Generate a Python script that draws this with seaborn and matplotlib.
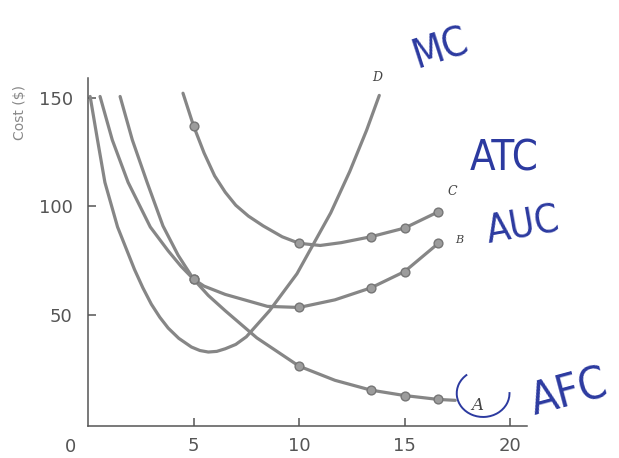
import numpy as np
import pandas as pd
import matplotlib
matplotlib.use("Agg")
import matplotlib.pyplot as plt
from matplotlib.patches import Arc
import seaborn as sns

# Output levels (Q) and per-unit costs ($) for the four cost curves
mc_q = [0.1, 0.45, 0.8, 1.4, 2.2, 2.6, 3.0, 3.4, 3.8, 4.3, 4.9, 5.3, 5.7, 6.1, 6.5, 7.0,
        7.5, 8.6, 9.9, 10.7, 11.5, 12.4, 13.2, 13.8]
mc_cost = [150.5, 130.5, 111, 90.5, 71, 62.5, 55, 49, 44, 39.3, 35.3, 33.7, 33, 33.3, 34.5, 36.5,
           40, 52, 69, 83, 97, 116, 135, 151]

avc_q = [0.57, 1.15, 1.9, 2.95, 3.8, 4.4, 5.0, 5.5, 6.5, 8.5, 10.0, 11.7, 13.4, 15.0, 16.6]
avc_cost = [150.5, 130.5, 111, 90.5, 79.5, 72.5, 66.5, 63.3, 59.5, 54, 53.5, 57, 62.5, 70, 83]

afc_q = [1.52, 2.1, 2.8, 3.55, 4.27, 5.0, 5.7, 6.5, 8.0, 10.0, 11.7, 13.4, 15.0, 16.6, 17.4]
afc_cost = [150.5, 130.5, 111, 91, 77.5, 66.5, 59, 52, 39.5, 26.5, 20, 15.5, 13, 11.2, 10.8]

atc_q = [4.5, 5.0, 5.5, 6.0, 6.5, 7.0, 7.6, 8.3, 9.2, 10.0, 11.0, 12.0, 13.4, 15.0, 16.6]
atc_cost = [152, 137, 124.5, 114, 106.5, 100.5, 95.5, 91, 86, 83, 82, 83.3, 86, 90, 97.5]

# Output levels marked with a dot on the A, B and C curves
marked_q = [5.0, 10.0, 13.4, 15.0, 16.6]

curve_letters = ["A", "B", "C", "D"]
curve_names = ["AFC", "AUC", "ATC", "MC"]

x_ticks = [5, 10, 15, 20]
y_ticks = [50, 100, 150]

rows = []
for letter, qs, cs in [("A", afc_q, afc_cost), ("B", avc_q, avc_cost),
                       ("C", atc_q, atc_cost), ("D", mc_q, mc_cost)]:
    for q, c in zip(qs, cs):
        rows.append({"curve": letter, "q": q, "cost": c})
df = pd.DataFrame(rows)

sns.set_style("ticks")
plt.rcParams["font.family"] = ["DejaVu Sans"]

fig = plt.figure(figsize=(6.19, 4.58), dpi=100)
ax = fig.add_axes([0.1422, 0.0699, 0.7092, 0.7598])

line_grey = "#868686"
sns.lineplot(data=df, x="q", y="cost", units="curve", estimator=None, sort=False,
             color=line_grey, lw=2.3, solid_joinstyle="round", solid_capstyle="round",
             ax=ax, legend=False)

is_marked = np.isclose(df["q"].values[:, None], np.array(marked_q)[None, :]).any(axis=1)
dots = df[df["curve"].isin(["A", "B", "C"]) & is_marked]
sns.scatterplot(data=dots, x="q", y="cost", s=40, color="#9c9c9c", edgecolor="#767676",
                linewidth=1.0, ax=ax, legend=False, zorder=3)

ax.set_xlim(0, 20.8)
ax.set_ylim(-1, 159)
ax.set_xticks(x_ticks)
ax.set_yticks(y_ticks)
ax.set_xlabel("")
ax.set_ylabel("")
sns.despine(ax=ax)
for side in ["left", "bottom"]:
    ax.spines[side].set_color("#555555")
    ax.spines[side].set_linewidth(1.1)
ax.tick_params(axis="both", direction="in", length=6, width=1.1, colors="#555555",
               labelsize=13, labelcolor="#555555")
ax.tick_params(axis="x", pad=8)
ax.tick_params(axis="y", pad=11)

fig.text(70 / 619, 1 - 447 / 458, "0", ha="center", va="center", fontsize=13, color="#555555")
fig.text(20 / 619, 1 - 113 / 458, "Cost ($)", rotation=90, ha="center", va="center",
         fontsize=10, color="#888888")

# Printed curve letters
letter_pos = {"D": (13.7, 159), "C": (17.25, 106.7), "B": (17.6, 84.6), "A": (18.42, 8.5)}
letter_size = {"D": 9, "C": 9, "B": 8, "A": 12}
for letter in curve_letters:
    x, y = letter_pos[letter]
    ax.text(x, y, letter, ha="center", va="center", fontsize=letter_size[letter],
            color="#444444", style="italic", family="DejaVu Serif", clip_on=False)

# Handwritten notes in blue ink
ink = "#2c3aa0"
note_pos = {"MC": (16.7, 172, 18, 29), "ATC": (19.7, 122, 0, 30),
            "AUC": (20.6, 91, 10, 28), "AFC": (22.8, 14, 15, 32)}
for name in curve_names:
    x, y, rot, size = note_pos[name]
    ax.text(x, y, name, ha="center", va="center", fontsize=size, color=ink,
            rotation=rot, fontweight="light", fontstretch="condensed", clip_on=False)

ax.add_patch(Arc((18.72, 14), 2.5, 21.7, theta1=95, theta2=25, color=ink, lw=1.4,
                 clip_on=False))

fig.savefig("out.png", dpi=100, facecolor="white")
